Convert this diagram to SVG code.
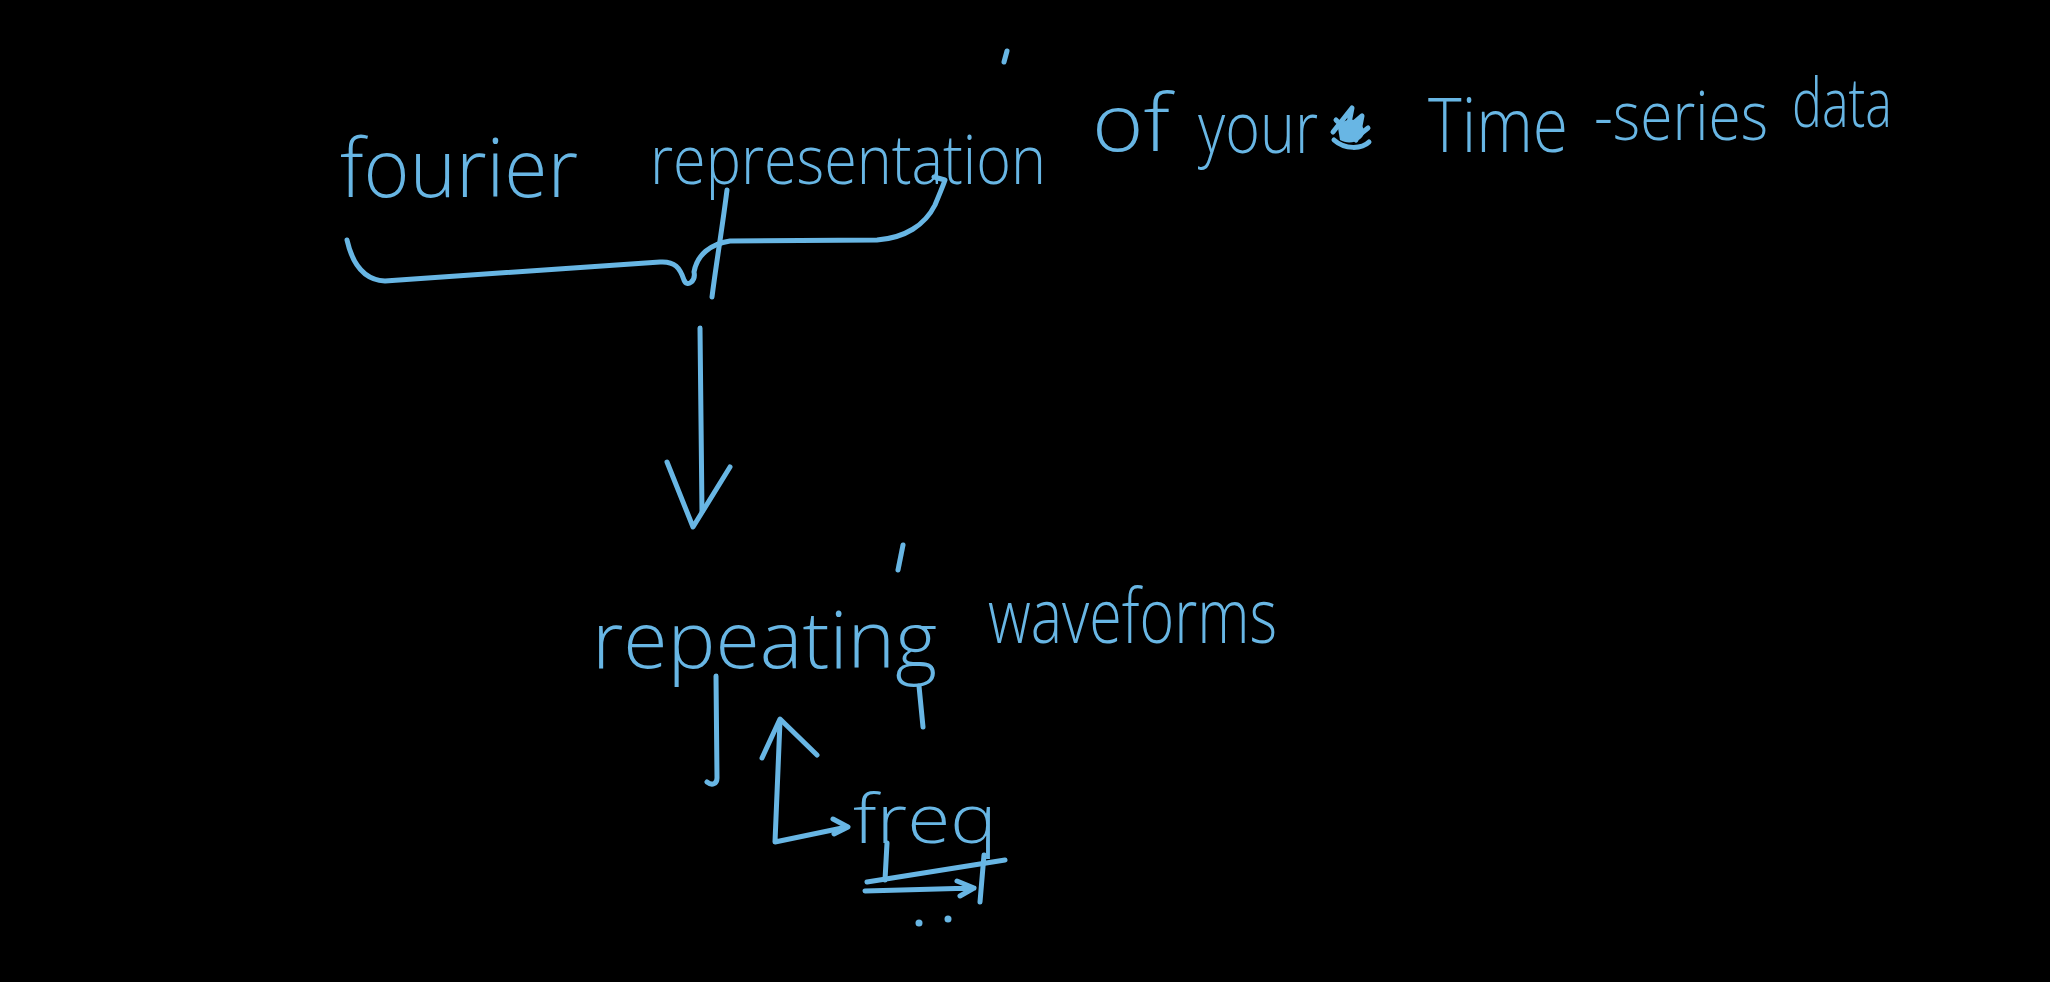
<svg xmlns="http://www.w3.org/2000/svg" width="2050" height="982" viewBox="0 0 2050 982">
<style>
.hw{fill:#68b6e4;font-family:"Open Sans","Lato","DejaVu Sans",sans-serif;font-weight:300}
.st{fill:none;stroke:#68b6e4;stroke-width:5;stroke-linecap:round;stroke-linejoin:round}
.dot{fill:#68b6e4}
</style>
<rect x="0" y="0" width="2050" height="982" fill="#000"/>
<g id="title">
<text class="hw" x="340" y="197" font-size="82" textLength="238" lengthAdjust="spacingAndGlyphs">fourier</text>
<text class="hw" x="650" y="184" font-size="68" textLength="396" lengthAdjust="spacingAndGlyphs">representation</text>
<text class="hw" x="1092" y="151" font-size="80" textLength="78" lengthAdjust="spacingAndGlyphs">of</text>
<text class="hw" x="1198" y="153" font-size="72" textLength="120" lengthAdjust="spacingAndGlyphs">your</text>
<text class="hw" x="1428" y="152" font-size="76" textLength="140" lengthAdjust="spacingAndGlyphs">Time</text>
<text class="hw" x="1594" y="140" font-size="68" textLength="174" lengthAdjust="spacingAndGlyphs">-series</text>
<text class="hw" x="1792" y="127" font-size="68" textLength="100" lengthAdjust="spacingAndGlyphs">data</text>
</g>
<g id="scribble">
<path class="st" d="M1334,140 C1345,150 1362,149 1369,142 M1333,132 L1352,108 L1348,128 L1362,116 L1358,136 L1368,128 M1336,120 L1356,140"/>
<path class="dot" d="M1338,128 C1345,115 1360,118 1364,130 C1366,140 1350,146 1340,140 Z"/>
</g>
<g id="repeating">
<text class="hw" x="592" y="668" font-size="80" textLength="345" lengthAdjust="spacingAndGlyphs">repeating</text>
</g>
<g id="waveforms">
<text class="hw" x="988" y="643" font-size="76" textLength="289" lengthAdjust="spacingAndGlyphs">waveforms</text>
</g>
<g id="freq">
<text class="hw" x="853" y="843" font-size="68" textLength="144" lengthAdjust="spacingAndGlyphs">freq</text>
</g>
<g id="connectors">
<path class="st" d="M1007,51 L1004,62"/>
<path class="st" d="M347,240 C352,262 362,280 385,281 L660,262 C675,261 680,268 684,280 C687,288 696,281 694,272 C697,255 710,244 730,241 L877,240 C905,238 925,225 935,205 C940,193 944,183 945,180 L934,177"/>
<path class="st" d="M727,190 C722,230 716,265 712,297"/>
<path class="st" d="M700,328 L702,512"/>
<path class="st" d="M667,462 L693,527 L730,467"/>
<path class="st" d="M903,545 L898,570"/>
<path class="st" d="M716,676 L717,778 C717,784 712,786 707,782"/>
<path class="st" d="M919,686 L923,727"/>
<path class="st" d="M780,721 L775,842 L847,827"/>
<path class="st" d="M762,758 L780,719 L817,755"/>
<path class="st" d="M833,819 L848,827 L834,834"/>
<path class="st" d="M887,843 L885,880"/>
<path class="st" d="M984,855 L980,902"/>
<path class="st" d="M867,882 L1005,860"/>
<path class="st" d="M865,891 L974,888 M957,881 L974,888 L960,896"/>
<circle class="dot" cx="919" cy="923" r="3.5"/>
<circle class="dot" cx="948" cy="919" r="3.5"/>
</g>
</svg>
